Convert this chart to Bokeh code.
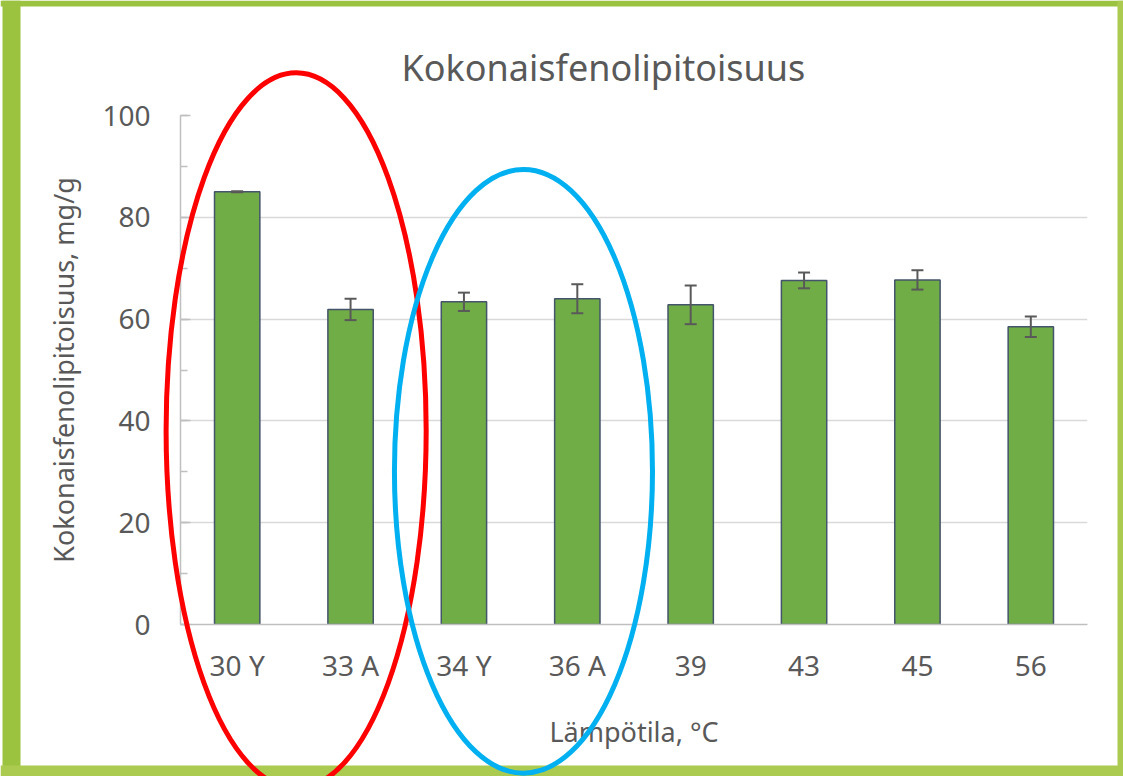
import numpy as np
from bokeh.plotting import figure
from bokeh.models import (ColumnDataSource, Whisker, TeeHead, GridBox, Column,
                          FactorRange, Range1d, SingleIntervalTicker)
from bokeh.embed import file_html
from bokeh.resources import INLINE

# ---- data ----
categories = ["30 Y", "33 A", "34 Y", "36 A", "39", "43", "45", "56"]
values = [85.0, 61.9, 63.4, 64.0, 62.8, 67.6, 67.7, 58.5]
errors = [0.1, 2.1, 1.8, 2.85, 3.8, 1.55, 1.9, 2.0]
title_text = "Kokonaisfenolipitoisuus"
y_label = "Kokonaisfenolipitoisuus, mg/g"
x_label = "Lämpötila, °C"

# highlight ellipses: centre (category units, value units) and half-axes
ell_cx = [1.02, 3.025]
ell_cy = [38.1, 30.1]
ell_ax = [1.147, 1.138]
ell_by = [70.3, 59.3]
ell_col = ["#FF0000", "#00B0F0"]

# ---- layout ----
W, H = 1123, 776
ML, MR, MT, MB = 180, 36, 115, 152
FW, FH = W - ML - MR, H - MT - MB
FONT = "Noto Sans"
TXT = "#595959"

p = figure(x_range=FactorRange(*categories, range_padding=0),
           y_range=Range1d(0, 100), width=W, height=H,
           output_backend="svg", toolbar_location=None,
           min_border_left=ML, min_border_right=MR,
           min_border_top=MT, min_border_bottom=MB)
p.background_fill_color = "white"
p.border_fill_color = "white"
p.outline_line_color = None

src = ColumnDataSource(dict(cat=categories, val=values,
                            upper=[v + e for v, e in zip(values, errors)],
                            lower=[v - e for v, e in zip(values, errors)]))

p.vbar(x="cat", top="val", width=0.4, source=src, fill_color="#70AD47",
       line_color="#44546A", line_width=1.5)

wh = Whisker(source=src, base="cat", upper="upper", lower="lower",
             line_color="#595959", line_width=2, level="overlay",
             upper_head=TeeHead(size=12, line_color="#595959", line_width=2),
             lower_head=TeeHead(size=12, line_color="#595959", line_width=2))
p.add_layout(wh)

# title
p.title.text = title_text
p.title.align = "left"
p.title.offset = 221
p.title.standoff = 47
p.title.text_font = FONT
p.title.text_font_size = "36px"
p.title.text_font_style = "normal"
p.title.text_color = TXT

# axes
p.xgrid.grid_line_color = None
p.ygrid.grid_line_color = "#D9D9D9"
p.ygrid.grid_line_width = 1.5

xa = p.xaxis[0]
xa.axis_line_color = "#BFBFBF"
xa.axis_line_width = 1.5
xa.major_tick_line_color = None
xa.minor_tick_line_color = None
xa.major_label_text_font = FONT
xa.major_label_text_font_size = "28px"
xa.major_label_text_color = TXT
xa.major_label_standoff = 15
xa.axis_label = x_label
xa.axis_label_text_font = FONT
xa.axis_label_text_font_size = "27px"
xa.axis_label_text_font_style = "normal"
xa.axis_label_text_color = TXT
xa.axis_label_standoff = 26

ya = p.yaxis[0]
ya.ticker = SingleIntervalTicker(interval=20, num_minor_ticks=2)
ya.axis_line_color = "#BFBFBF"
ya.axis_line_width = 1.5
ya.major_tick_in = 10
ya.major_tick_out = 0
ya.major_tick_line_color = "#BFBFBF"
ya.major_tick_line_width = 1.5
ya.minor_tick_in = 7
ya.minor_tick_out = 0
ya.minor_tick_line_color = "#BFBFBF"
ya.minor_tick_line_width = 1.5
ya.major_label_text_font = FONT
ya.major_label_text_font_size = "28px"
ya.major_label_text_color = TXT
ya.major_label_standoff = 30
ya.axis_label = y_label
ya.axis_label_text_font = FONT
ya.axis_label_text_font_size = "27px"
ya.axis_label_text_font_style = "normal"
ya.axis_label_text_color = TXT
ya.axis_label_standoff = 17

# ---- transparent overlay sharing the chart's data coordinates, covering the whole page ----
nx = len(categories)
def dx(px):
    return (px - ML) / FW * nx
def dy(py):
    return (MT + FH - py) / FH * 100.0

ov = figure(x_range=Range1d(dx(0), dx(W)), y_range=Range1d(dy(H), dy(0)),
            width=W, height=H, output_backend="svg", toolbar_location=None,
            x_axis_type=None, y_axis_type=None, title=None, min_border=0)
ov.background_fill_color = None
ov.border_fill_color = None
ov.outline_line_color = None
ov.xgrid.visible = False
ov.ygrid.visible = False

# green frame strips (pixel edges converted to chart coordinates)
GREEN_A = "#9CC340"
GREEN_B = "#ABCB50"
strips = [(2, 20, 0, H, GREEN_A), (0, W, 0, 6, GREEN_A),
          (1117, W, 0, H, GREEN_B), (0, W, 765, H, GREEN_B)]
ov.quad(left=[dx(s[0]) for s in strips], right=[dx(s[1]) for s in strips],
        top=[dy(s[2]) for s in strips], bottom=[dy(s[3]) for s in strips],
        fill_color=[s[4] for s in strips], line_color=None)

ov.ellipse(x=ell_cx, y=ell_cy, width=[2 * a for a in ell_ax], height=[2 * b for b in ell_by],
           fill_color=None, line_color=ell_col, line_width=5)

layout = GridBox(children=[(Column(children=[p]), 0, 0), (Column(children=[ov]), 0, 0)],
                 spacing=0)

open("out.html", "w").write(file_html(layout, INLINE))
